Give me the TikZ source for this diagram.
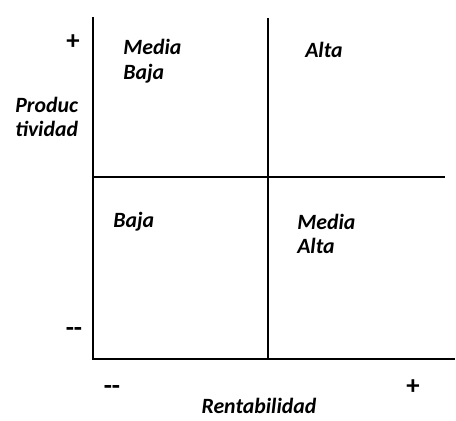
\documentclass[tikz,border=0pt]{standalone}
\usepackage{fontspec}
\setmainfont{Carlito}
\tikzset{lbl/.style={font=\fontsize{15.5}{17.5}\selectfont\bfseries\itshape, inner sep=0pt, align=left},
	sgn/.style={font=\fontsize{19}{19}\selectfont\bfseries, inner sep=0pt}}
\begin{document}
\begin{tikzpicture}[x=0.25cm,y=0.25cm]
	\useasboundingbox (0,0) rectangle (45.6,42);
	\draw [line width=1.1pt] (9.3,40.3)--(9.3,6.1)--(45.5,6.1);
	\draw [line width=1.1pt] (26.8,40.2)--(26.8,6.1);
	\draw [line width=1.1pt] (9.3,24.3)--(44.5,24.3);
	\node[sgn] (pmas) at (7.3,37.8) {+};
	\node[sgn] (pmenos) at (7.4,8.8) {-{}-};
	\node[lbl, anchor=west] (prod) at (1.5,30.3) {Produc\\tividad};
	\node[lbl, anchor=west] (mb) at (12.3,35.9) {Media\\Baja};
	\node[lbl, anchor=west] (alta) at (30.5,37.0) {Alta};
	\node[lbl, anchor=west] (baja) at (11.3,19.8) {Baja};
	\node[lbl, anchor=west] (ma) at (29.7,18.6) {Media\\Alta};
	\node[sgn] (rmenos) at (11.2,3.0) {-{}-};
	\node[sgn] (rmas) at (41.3,3.3) {+};
	\node[lbl, align=center, anchor=south] (rent) at (25.9,0.6) {Rentabilidad};
\end{tikzpicture}
\end{document}
